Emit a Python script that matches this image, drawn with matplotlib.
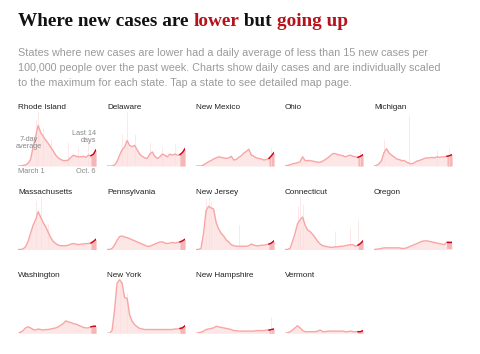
import numpy as np
import matplotlib
matplotlib.use("Agg")
import matplotlib.pyplot as plt

# weekly 7-day averages, Mar 1 -> Oct 6, scaled to each state's max (0..1)
states = ["Rhode Island", "Delaware", "New Mexico", "Ohio", "Michigan",
          "Massachusetts", "Pennsylvania", "New Jersey", "Connecticut", "Oregon",
          "Washington", "New York", "New Hampshire", "Vermont"]

rhode_island = [0, 0, 0.01, 0.02, 0.05, 0.12, 0.35, 0.55, 0.75, 0.62, 0.55, 0.48, 0.42, 0.35, 0.28, 0.2,
                0.15, 0.12, 0.1, 0.1, 0.11, 0.16, 0.2, 0.18, 0.17, 0.17, 0.18, 0.16, 0.2, 0.19, 0.22, 0.3]
delaware = [0, 0, 0, 0.02, 0.08, 0.2, 0.3, 0.35, 0.47, 0.38, 0.36, 0.38, 0.3, 0.22, 0.18, 0.15,
            0.14, 0.22, 0.26, 0.18, 0.14, 0.17, 0.22, 0.2, 0.17, 0.22, 0.2, 0.22, 0.2, 0.21, 0.25, 0.32]
new_mexico = [0, 0, 0, 0.02, 0.05, 0.08, 0.1, 0.13, 0.15, 0.17, 0.16, 0.15, 0.14, 0.15, 0.18, 0.11,
              0.12, 0.16, 0.19, 0.24, 0.27, 0.31, 0.2, 0.18, 0.15, 0.14, 0.13, 0.11, 0.12, 0.14, 0.19, 0.25]
ohio = [0, 0.01, 0.02, 0.04, 0.05, 0.06, 0.08, 0.17, 0.1, 0.1, 0.1, 0.09, 0.08, 0.07, 0.07, 0.09,
        0.12, 0.15, 0.19, 0.23, 0.23, 0.21, 0.2, 0.19, 0.17, 0.19, 0.2, 0.18, 0.17, 0.16, 0.18, 0.21]
michigan = [0, 0.01, 0.04, 0.1, 0.25, 0.32, 0.24, 0.2, 0.17, 0.13, 0.12, 0.1, 0.1, 0.07, 0.05, 0.04,
            0.06, 0.09, 0.1, 0.12, 0.14, 0.15, 0.15, 0.16, 0.15, 0.17, 0.16, 0.17, 0.17, 0.18, 0.19, 0.21]
massachusetts = [0, 0, 0.01, 0.05, 0.15, 0.3, 0.45, 0.55, 0.7, 0.6, 0.5, 0.42, 0.32, 0.22, 0.15, 0.11,
                 0.08, 0.07, 0.07, 0.07, 0.08, 0.1, 0.11, 0.1, 0.09, 0.1, 0.1, 0.11, 0.11, 0.12, 0.15, 0.19]
pennsylvania = [0, 0, 0.02, 0.08, 0.17, 0.24, 0.25, 0.23, 0.22, 0.2, 0.18, 0.16, 0.14, 0.12, 0.1, 0.08,
                0.06, 0.06, 0.08, 0.1, 0.12, 0.14, 0.14, 0.12, 0.11, 0.12, 0.13, 0.12, 0.13, 0.14, 0.16, 0.19]
new_jersey = [0, 0, 0.02, 0.3, 0.72, 0.8, 0.77, 0.75, 0.5, 0.38, 0.3, 0.25, 0.18, 0.14, 0.09, 0.07,
              0.06, 0.06, 0.06, 0.06, 0.06, 0.07, 0.1, 0.08, 0.07, 0.07, 0.08, 0.08, 0.09, 0.1, 0.12, 0.16]
connecticut = [0, 0, 0.02, 0.15, 0.3, 0.48, 0.55, 0.6, 0.45, 0.36, 0.33, 0.28, 0.22, 0.15, 0.1, 0.07,
               0.06, 0.05, 0.04, 0.04, 0.05, 0.05, 0.06, 0.06, 0.07, 0.08, 0.09, 0.09, 0.06, 0.08, 0.11, 0.16]
oregon = [0, 0.005, 0.01, 0.02, 0.03, 0.03, 0.03, 0.03, 0.03, 0.03, 0.03, 0.02, 0.02, 0.03, 0.05, 0.07,
          0.09, 0.11, 0.13, 0.15, 0.16, 0.16, 0.15, 0.14, 0.13, 0.12, 0.11, 0.1, 0.09, 0.14, 0.14, 0.14]
washington = [0, 0.02, 0.05, 0.1, 0.12, 0.1, 0.07, 0.06, 0.08, 0.07, 0.06, 0.07, 0.07, 0.08, 0.09, 0.1,
              0.12, 0.15, 0.18, 0.23, 0.21, 0.2, 0.18, 0.17, 0.15, 0.13, 0.11, 0.1, 0.1, 0.12, 0.13, 0.13]
new_york = [0, 0, 0.05, 0.43, 0.93, 0.99, 0.93, 0.66, 0.65, 0.34, 0.22, 0.16, 0.12, 0.09, 0.08, 0.07,
            0.07, 0.07, 0.07, 0.07, 0.07, 0.07, 0.07, 0.07, 0.07, 0.07, 0.07, 0.08, 0.08, 0.09, 0.1, 0.14]
new_hampshire = [0, 0.01, 0.02, 0.04, 0.07, 0.08, 0.09, 0.1, 0.13, 0.12, 0.11, 0.1, 0.09, 0.08, 0.07, 0.05,
                 0.05, 0.04, 0.04, 0.04, 0.04, 0.04, 0.04, 0.04, 0.05, 0.05, 0.05, 0.05, 0.06, 0.06, 0.07, 0.08]
vermont = [0, 0.01, 0.03, 0.06, 0.1, 0.14, 0.1, 0.05, 0.03, 0.03, 0.03, 0.03, 0.03, 0.04, 0.06, 0.03,
           0.03, 0.04, 0.04, 0.04, 0.04, 0.04, 0.04, 0.04, 0.03, 0.03, 0.04, 0.03, 0.03, 0.03, 0.03, 0.05]

series = [rhode_island, delaware, new_mexico, ohio, michigan,
          massachusetts, pennsylvania, new_jersey, connecticut, oregon,
          washington, new_york, new_hampshire, vermont]

# a few noisy daily reports that stick out above the average (week index, height)
spikes = {
    "Rhode Island": [(7, 0.85), (8, 1.0), (10, 0.7), (13, 0.5), (20, 0.45), (24, 0.35), (28, 0.5)],
    "Delaware": [(6, 0.6), (8, 1.0), (11, 0.6), (17, 0.45), (22, 0.35), (27, 0.4), (31, 0.38)],
    "Michigan": [(4, 0.5), (14, 0.95), (25, 0.3), (30, 0.33)],
    "Massachusetts": [(7, 0.9), (9, 1.0), (12, 0.5)],
    "New Jersey": [(4, 0.95), (5, 1.0), (6, 0.9), (17, 0.45)],
    "Connecticut": [(5, 0.8), (6, 1.0), (7, 0.85), (20, 0.35), (26, 0.4), (29, 0.55), (31, 0.6)],
    "New York": [(5, 1.0), (8, 0.75)],
    "New Hampshire": [(30, 0.3)],
    "Ohio": [(30, 0.3)],
    "New Mexico": [(30, 0.35)],
}

W, H = 480, 354
plt.rcParams['font.family'] = ['Liberation Sans', 'DejaVu Sans']
fig = plt.figure(figsize=(W / 100, H / 100), dpi=100)
renderer = fig.canvas.get_renderer()

# headline, coloured word by word
parts = [("Where new cases are ", "#121212"), ("lower", "#b5121b"), (" but ", "#121212"),
         ("going up", "#b5121b")]
x = 18
for txt, col in parts:
    t = fig.text(x / W, 1 - 22 / H, txt, fontsize=13.9, fontweight="bold",
                 family="Liberation Serif", color=col, va="center")
    x += t.get_window_extent(renderer=renderer).width

sub = ("States where new cases are lower had a daily average of less than 15 new cases per\n"
       "100,000 people over the past week. Charts show daily cases and are individually scaled\n"
       "to the maximum for each state. Tap a state to see detailed map page.")
fig.text(18 / W, 1 - 48.5 / H, sub, fontsize=7.75, color="#9a9a9a", va="top", linespacing=1.62)

line_col = "#f8a5a5"
fill_col = "#fde6e6"
red = "#d0021b"
n = len(rhode_island)
xs = np.arange(n)

row_base = [166, 249.5, 333.3]
row_title = [107.5, 192, 275.5]
for k, (name, vals) in enumerate(zip(states, series)):
    r, c = divmod(k, 5)
    left = 18 + 89 * c
    ax = fig.add_axes([left / W, (H - row_base[r]) / H, 78 / W, 54 / H])
    ax.set_xlim(0, n - 1)
    ax.set_ylim(0, 1)
    ax.axis("off")
    v = np.array(vals)
    ax.fill_between(xs, 0, v, color=fill_col, lw=0)
    for wk, h in spikes.get(name, []):
        ax.vlines(wk, 0, h, color="#fcdede", lw=0.5)
    ax.fill_between(xs[-3:], 0, v[-3:], color="#f4b6b6", lw=0)
    ax.plot(xs, v, color=line_col, lw=1.0, solid_capstyle="round")
    ax.plot(xs[-3:], v[-3:], color=red, lw=1.0)
    fig.text(left / W, 1 - row_title[r] / H, name, fontsize=5.9, color="#222222", va="center")

# annotations on the first panel
fig.text(29 / W, 1 - 143 / H, "7-day\naverage", fontsize=5.3, color="#888888",
         ha="center", va="center", linespacing=1.0)
fig.text(96 / W, 1 - 137 / H, "Last 14\ndays", fontsize=5.3, color="#888888",
         ha="right", va="center", linespacing=1.0)
fig.text(18 / W, 1 - 171.5 / H, "March 1", fontsize=5.3, color="#888888", va="center")
fig.text(96 / W, 1 - 171.5 / H, "Oct. 6", fontsize=5.3, color="#888888", ha="right", va="center")

fig.savefig("out.png", dpi=100)
